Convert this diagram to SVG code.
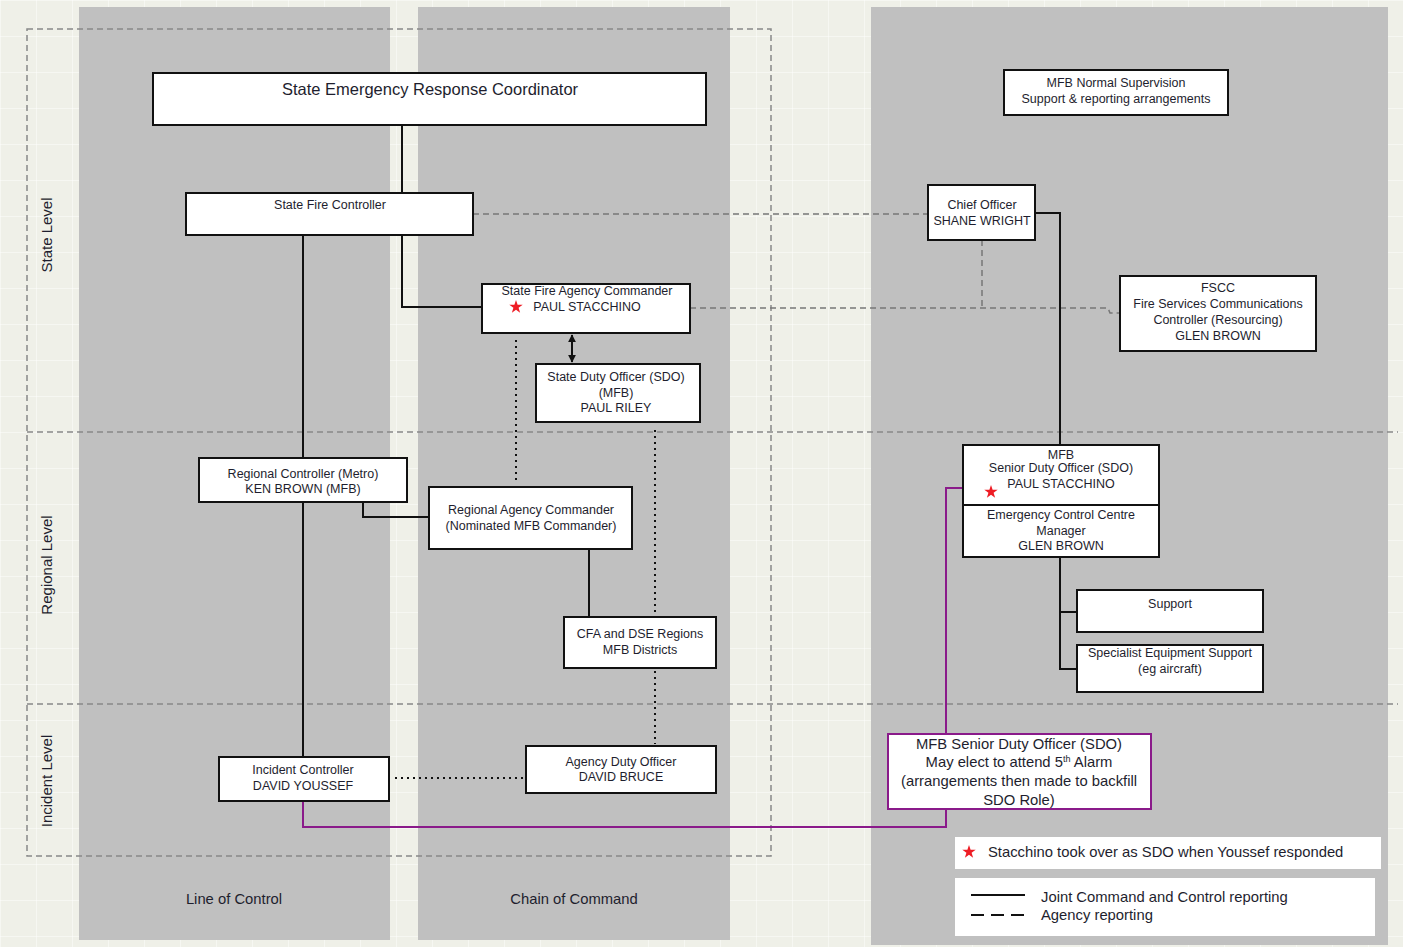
<svg xmlns="http://www.w3.org/2000/svg" width="1403" height="947" viewBox="0 0 1403 947">
<defs>
<style>
.bg{fill:#eff0e8}
.col{fill:#c0c0c0}
.box{fill:#fff;stroke:#111;stroke-width:2}
.pbox{fill:#fff;stroke:#8a1a8a;stroke-width:2}
.t{font-family:"Liberation Sans",Arial,sans-serif;font-size:12.5px;fill:#1e1e2e;text-anchor:middle}
.big{font-size:16.5px}
.lg{font-family:"Liberation Sans",Arial,sans-serif;font-size:14.8px;fill:#1e1e2e}
.lvl{font-family:"Liberation Sans",Arial,sans-serif;font-size:15px;fill:#1e1e2e;text-anchor:middle}
.solid{fill:none;stroke:#111;stroke-width:2}
.dash{fill:none;stroke:#777;stroke-width:1.5;stroke-dasharray:6 4}
.sep{fill:none;stroke:#888;stroke-width:1.5;stroke-dasharray:6 4}
.dot{fill:none;stroke:#111;stroke-width:2;stroke-dasharray:2 4}
.purple{fill:none;stroke:#8a1a8a;stroke-width:2}
.star{fill:#ee1c24}
</style>
<polygon id="star" points="0,-7 1.6,-2.2 6.7,-2.2 2.6,0.8 4.1,5.7 0,2.8 -4.1,5.7 -2.6,0.8 -6.7,-2.2 -1.6,-2.2"/>
<marker id="ah" viewBox="0 0 10 10" refX="9" refY="5" markerWidth="4" markerHeight="4" orient="auto-start-reverse"><path d="M0,0 L10,5 L0,10 z" fill="#111"/></marker>
<pattern id="grid" width="36" height="36" patternUnits="userSpaceOnUse"><path d="M0,0.5 H36 M0.5,0 V36" stroke="#fff" stroke-width="1" opacity="0.45" fill="none"/></pattern>
</defs>

<g id="background">
<rect class="bg" x="0" y="0" width="1403" height="947"/>
<rect x="0" y="0" width="1403" height="947" fill="url(#grid)"/>
<rect class="col" x="79" y="7" width="311" height="933"/>
<rect class="col" x="418" y="7" width="312" height="933"/>
<rect class="col" x="871" y="7" width="517" height="938"/>
<rect class="sep" x="27" y="29" width="744" height="827"/>
<line class="sep" x1="27" y1="432" x2="1398" y2="432"/>
<line class="sep" x1="27" y1="704" x2="1398" y2="704"/>
<text class="lvl" transform="translate(52,235) rotate(-90)">State Level</text>
<text class="lvl" transform="translate(52,565) rotate(-90)">Regional Level</text>
<text class="lvl" transform="translate(52,781) rotate(-90)">Incident Level</text>
<text class="lg" x="234" y="904" text-anchor="middle">Line of Control</text>
<text class="lg" x="574" y="904" text-anchor="middle">Chain of Command</text>
</g>

<g id="connectors">
<polyline class="solid" points="402,125 402,307 482,307"/>
<line class="solid" x1="303" y1="235" x2="303" y2="757"/>
<polyline class="solid" points="363,502 363,517 429,517"/>
<line class="solid" x1="589" y1="549" x2="589" y2="617"/>
<line class="solid" x1="572" y1="335" x2="572" y2="362" marker-start="url(#ah)" marker-end="url(#ah)"/>
<line class="dot" x1="516" y1="340" x2="516" y2="484"/>
<line class="dot" x1="655" y1="430" x2="655" y2="615"/>
<line class="dot" x1="655" y1="671" x2="655" y2="744"/>
<line class="dot" x1="395" y1="778" x2="524" y2="778"/>
<line class="dash" x1="473" y1="214" x2="928" y2="214"/>
<line class="dash" x1="982" y1="240" x2="982" y2="308"/>
<polyline class="dash" points="690,308 1108,308 1110,313 1120,313"/>
<polyline class="solid" points="1035,213 1060,213 1060,445"/>
<polyline class="solid" points="1060,557 1060,669 1077,669"/>
<line class="solid" x1="1060" y1="612" x2="1077" y2="612"/>
<polyline class="purple" points="303,801 303,827 946,827 946,488 963,488"/>
</g>

<g id="node-serc">
<rect class="box" x="153" y="73" width="553" height="52"/>
<text class="t big" x="430" y="95">State Emergency Response Coordinator</text>
</g>
<g id="node-sfc">
<rect class="box" x="186" y="193" width="287" height="42"/>
<text class="t" x="330" y="209">State Fire Controller</text>
</g>
<g id="node-sfac">
<rect class="box" x="482" y="284" width="208" height="49"/>
<text class="t" x="587" y="295">State Fire Agency Commander</text>
<text class="t" x="587" y="311">PAUL STACCHINO</text>
<use href="#star" class="star" x="516" y="307"/>
</g>
<g id="node-sdo">
<rect class="box" x="536" y="364" width="164" height="58"/>
<text class="t" x="616" y="381">State Duty Officer (SDO)</text>
<text class="t" x="616" y="397">(MFB)</text>
<text class="t" x="616" y="412">PAUL RILEY</text>
</g>
<g id="node-mfb-normal">
<rect class="box" x="1004" y="70" width="224" height="45"/>
<text class="t" x="1116" y="87">MFB Normal Supervision</text>
<text class="t" x="1116" y="103">Support &amp; reporting arrangements</text>
</g>
<g id="node-chief">
<rect class="box" x="928" y="185" width="107" height="55"/>
<text class="t" x="982" y="209">Chief Officer</text>
<text class="t" x="982" y="225">SHANE WRIGHT</text>
</g>
<g id="node-fscc">
<rect class="box" x="1120" y="276" width="196" height="75"/>
<text class="t" x="1218" y="292">FSCC</text>
<text class="t" x="1218" y="308">Fire Services Communications</text>
<text class="t" x="1218" y="324">Controller (Resourcing)</text>
<text class="t" x="1218" y="340">GLEN BROWN</text>
</g>
<g id="node-regional-controller">
<rect class="box" x="199" y="458" width="208" height="44"/>
<text class="t" x="303" y="478">Regional Controller (Metro)</text>
<text class="t" x="303" y="493">KEN BROWN (MFB)</text>
</g>
<g id="node-rac">
<rect class="box" x="429" y="487" width="203" height="62"/>
<text class="t" x="531" y="514">Regional Agency Commander</text>
<text class="t" x="531" y="530">(Nominated MFB Commander)</text>
</g>
<g id="node-cfa">
<rect class="box" x="564" y="617" width="152" height="51"/>
<text class="t" x="640" y="638">CFA and DSE Regions</text>
<text class="t" x="640" y="654">MFB Districts</text>
</g>
<g id="node-mfb-sdo">
<rect class="box" x="963" y="445" width="196" height="112"/>
<line class="solid" x1="963" y1="505" x2="1159" y2="505"/>
<text class="t" x="1061" y="459">MFB</text>
<text class="t" x="1061" y="472">Senior Duty Officer (SDO)</text>
<text class="t" x="1061" y="488">PAUL STACCHINO</text>
<use href="#star" class="star" x="991" y="492"/>
<text class="t" x="1061" y="519">Emergency Control Centre</text>
<text class="t" x="1061" y="535">Manager</text>
<text class="t" x="1061" y="550">GLEN BROWN</text>
</g>
<g id="node-support">
<rect class="box" x="1077" y="590" width="186" height="42"/>
<text class="t" x="1170" y="608">Support</text>
</g>
<g id="node-specialist">
<rect class="box" x="1077" y="645" width="186" height="47"/>
<text class="t" x="1170" y="657">Specialist Equipment Support</text>
<text class="t" x="1170" y="673">(eg aircraft)</text>
</g>
<g id="node-incident-controller">
<rect class="box" x="219" y="757" width="170" height="44"/>
<text class="t" x="303" y="774">Incident Controller</text>
<text class="t" x="303" y="790">DAVID YOUSSEF</text>
</g>
<g id="node-ado">
<rect class="box" x="526" y="746" width="190" height="47"/>
<text class="t" x="621" y="766">Agency Duty Officer</text>
<text class="t" x="621" y="781">DAVID BRUCE</text>
</g>
<g id="node-mfb-sdo-5th">
<rect class="pbox" x="888" y="734" width="263" height="75"/>
<text class="lg" x="1019" y="749" text-anchor="middle">MFB Senior Duty Officer (SDO)</text>
<text class="lg" x="1019" y="767" text-anchor="middle">May elect to attend 5<tspan font-size="9" dy="-5">th</tspan><tspan dy="5"> Alarm</tspan></text>
<text class="lg" x="1019" y="786" text-anchor="middle">(arrangements then made to backfill</text>
<text class="lg" x="1019" y="805" text-anchor="middle">SDO Role)</text>
</g>
<g id="legend-star">
<rect x="955" y="837" width="426" height="32" fill="#fff"/>
<use href="#star" class="star" x="969" y="852"/>
<text class="lg" x="988" y="857">Stacchino took over as SDO when Youssef responded</text>
</g>
<g id="legend-lines">
<rect x="955" y="878" width="420" height="58" fill="#fff"/>
<line x1="971" y1="895" x2="1025" y2="895" stroke="#111" stroke-width="2"/>
<line x1="971" y1="915" x2="1025" y2="915" stroke="#111" stroke-width="2" stroke-dasharray="13 7"/>
<text class="lg" x="1041" y="902">Joint Command and Control reporting</text>
<text class="lg" x="1041" y="920">Agency reporting</text>
</g>
</svg>
